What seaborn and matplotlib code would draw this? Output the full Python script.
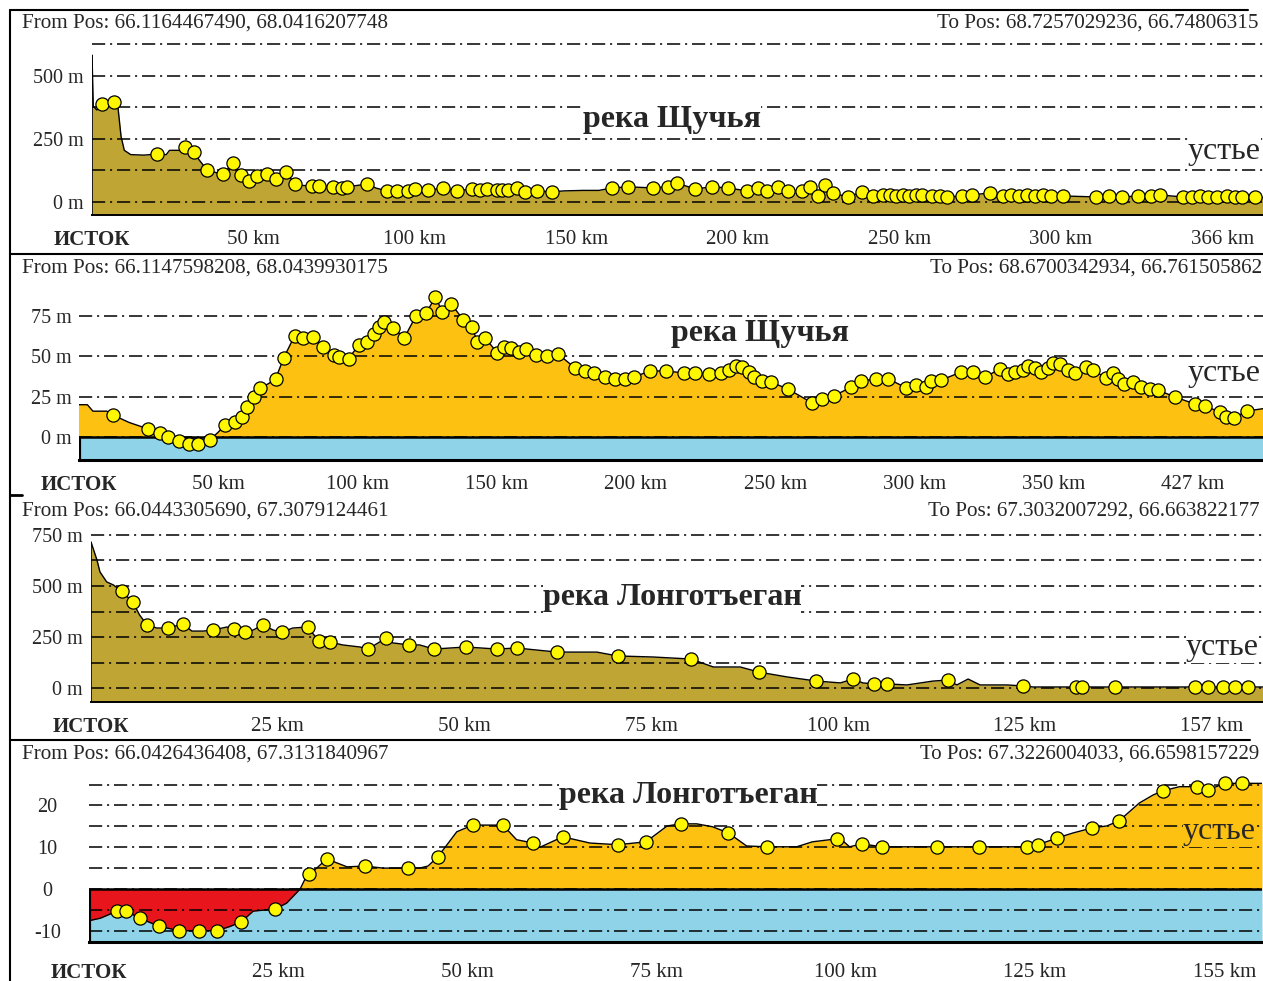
import numpy as np
import matplotlib
matplotlib.use("Agg")
import matplotlib.pyplot as plt
import seaborn as sns

# river profiles, (km from source, elevation)
# *_pts  = yellow survey markers, *_line = extra vertices of the profile line

# --- 1: река Щучья, relief
p1_pts = [(3.1, 390), (6.8, 395), (20.1, 190), (28.8, 218), (31.6, 198), (35.6, 127), (40.6, 111), (43.7, 155),
          (46.1, 107), (48.6, 83), (51.1, 103), (54.2, 111), (57.0, 91), (60.1, 119), (62.8, 71), (68.1, 63),
          (70.3, 63), (74.6, 60), (77.4, 56), (78.9, 60), (85.1, 71), (91.3, 44), (94.4, 44), (97.8, 44),
          (100.0, 52), (104, 46), (108.7, 56), (113.0, 44), (117.6, 52), (120, 48), (122.3, 52), (125.4, 48),
          (127, 48), (128.8, 48), (131.6, 56), (134.1, 40), (137.8, 44), (142.4, 40), (161, 56), (166, 60),
          (173.7, 56), (178.3, 60), (181.1, 75), (186.7, 52), (192, 60), (196.9, 56), (202.8, 44), (206.2, 56),
          (209, 44), (212.4, 60), (215.5, 44), (219.8, 44), (222.3, 60), (224.8, 24), (227, 67), (229.4, 36),
          (234, 20), (238.4, 40), (241.8, 24), (245, 28), (247, 26), (249, 24), (251, 28), (253, 24),
          (255, 26), (257, 28), (260, 24), (262.5, 24), (264.7, 20), (269.3, 24), (272.4, 28), (278, 36),
          (282, 24), (284.5, 26), (287, 24), (289.5, 28), (292, 24), (294.5, 26), (297, 24), (300.6, 24),
          (311, 20), (315, 24), (319, 20), (324, 24), (328, 24), (330.6, 28), (337.8, 20), (340.5, 20),
          (343, 22), (345.5, 20), (348.5, 20), (351.5, 22), (354, 20), (356, 20), (360, 18)]
p1_line = [(0, 583), (0.4, 380), (1.5, 365), (5, 395), (7.5, 395), (8, 380), (9, 260), (10, 205), (12, 188),
           (16, 186), (23, 188), (24, 205), (27, 205), (33, 170), (38, 118), (65, 66), (88, 55), (146, 44),
           (152, 46), (157, 46), (366, 18)]

# --- 2: река Щучья, water level
p2_pts = [(12.2, 13.6), (24.8, 5), (29, 2.5), (32, 0), (36, -2.5), (39.5, -4.3), (42.7, -4.3), (47, -1.9),
          (52.5, 7.4), (56, 9.3), (58.7, 12.4), (60.2, 18.6), (63, 24.8), (64.9, 30.4), (70.6, 36), (73.5, 49),
          (77.4, 62.6), (80.6, 61.4), (83.9, 62), (87.8, 55.8), (91.4, 50.8), (93.5, 49.6), (96.8, 48.4),
          (100.4, 57), (103.6, 58.9), (106, 63.9), (107.9, 68.2), (109.7, 71.3), (112.9, 67.6), (116.8, 61.4),
          (121, 75), (124.7, 76.9), (128, 86.8), (130.5, 77.5), (133.7, 82.5), (138, 72.5), (141.2, 68.2),
          (143, 58.9), (145.9, 61.4), (150.2, 52.1), (152.7, 55.8), (155.2, 55.2), (158, 52.7), (160.6, 54.6),
          (164.2, 50.8), (168.1, 50.2), (172, 51.5), (178.1, 42.8), (181.7, 40.9), (185, 39.7), (188.9, 37.2),
          (192.5, 36), (196, 36), (199.3, 37.2), (205, 40.9), (210.8, 40.9), (217.2, 39.7), (221.1, 39.7),
          (226.2, 39), (230.5, 39.7), (233.3, 41.5), (235.8, 44), (238, 43.4), (240.5, 40.3), (242.3, 37.2),
          (245.2, 34.7), (248.4, 34.1), (254.5, 29.8), (263.4, 21), (266.7, 23.6), (271, 25.4), (277.4, 31),
          (281, 34.7), (286.4, 36), (290.7, 36), (297.1, 30.4), (300.7, 32.2), (304, 31), (306.1, 34.7),
          (309.7, 35.3), (316.8, 40.3), (321.1, 40.3), (325.4, 37.2), (330.8, 42.2), (333.7, 39), (336.2, 40.3),
          (339, 41.5), (340.9, 44), (343.4, 42.8), (345.5, 40.3), (348, 42.8), (349.8, 45.9), (352.3, 45.3),
          (355.2, 41.5), (357.7, 39.7), (361.6, 43.4), (364.2, 41.5), (368.8, 36.6), (371.3, 39.7), (373.1, 36),
          (375.3, 32.9), (378.5, 34.1), (381.4, 31), (384.6, 29.8), (387.5, 29.1), (393.5, 24.8), (400.7, 20.5),
          (404.3, 19.2), (409.7, 15.5), (411.8, 12.4), (414.7, 11.8), (419.4, 16.1)]
p2_line = [(0, 20), (3, 20), (5, 16), (10, 16), (18, 9), (50, 3), (68, 33), (423, 17), (427, 18)]

# --- 3: река Лонготъеган, relief
p3_pts = [(4.1, 475), (5.6, 421), (7.5, 309), (10.3, 294), (12.3, 314), (16.3, 284), (19.1, 289), (20.6, 274),
          (23, 309), (25.6, 274), (29, 299), (30.5, 230), (32, 225), (37.1, 191), (39.5, 245), (42.6, 211),
          (45.9, 191), (50.2, 201), (54.3, 191), (57, 196), (62.4, 176), (70.5, 157), (80.3, 142), (89.4, 78),
          (97.1, 34), (102, 44), (104.8, 20), (106.6, 20), (114.7, 39), (124.8, 10), (131.9, 5), (132.7, 5),
          (137.1, 5), (147.7, 5), (149.5, 5), (151.5, 5), (153.1, 5), (154.8, 5)]
p3_line = [(0, 716), (0.8, 627), (1.2, 569), (2.1, 520), (3, 505), (6.5, 358), (8.8, 294), (13.5, 279),
           (15, 279), (18.2, 299), (21.7, 284), (24.4, 284), (27, 294), (33.7, 211), (36, 201), (40.4, 221),
           (44, 211), (67.7, 176), (75.2, 152), (83.3, 103), (86.9, 103), (93.2, 54), (100.3, 25), (103.3, 25),
           (109.2, 15), (112.7, 34), (115.9, 15), (117.4, 44), (119, 15), (122.6, 15), (126.1, 5), (157, 5)]

# --- 4: река Лонготъеган, water level
p4_pts = [(3.7, -5.3), (4.9, -5.3), (6.7, -7), (9.2, -8.9), (11.9, -10), (14.5, -10), (16.9, -10), (20.1, -7.9),
          (24.6, -4.8), (29.1, 3.6), (31.4, 7.2), (36.5, 5.5), (42.1, 5), (46.1, 7.7), (50.7, 15.3), (54.7, 15.3),
          (58.7, 11), (62.6, 12.5), (69.9, 10.6), (73.6, 11.3), (78.2, 15.6), (84.5, 13.4), (89.6, 10.1),
          (98.8, 12), (102.1, 10.8), (104.8, 10.1), (112, 10.1), (117.6, 10.1), (123.9, 10.1), (125.4, 10.6),
          (127.9, 12.2), (132.5, 14.6), (136.1, 16.3), (141.9, 23.5), (146.4, 24.5), (147.8, 23.7),
          (150.1, 25.3), (152.4, 25.3)]
p4_line = [(0, -7.6), (1.5, -7), (18.6, -9), (21.7, -5.3), (26.1, -3.4), (27.9, 0), (28.5, 2.2), (30.1, 5),
           (34.1, 5.3), (38.8, 5), (43.7, 5), (44.8, 5.5), (48.6, 13.7), (56.5, 11.8), (59.6, 10), (66.2, 11),
           (76.4, 15.1), (80.3, 15.6), (82.4, 14.9), (86.9, 10.3), (93.5, 10.1), (95.6, 11.3), (99.2, 12.2),
           (100.5, 10.1), (130, 13.4), (134.5, 15.1), (138.8, 20.6), (140.6, 22.5), (144.1, 24.5), (155, 25.3)]

km_ticks = [[0, 50, 100, 150, 200, 250, 300, 350],
            [0, 50, 100, 150, 200, 250, 300, 350, 400],
            [0, 25, 50, 75, 100, 125, 150],
            [0, 25, 50, 75, 100, 125, 150]]
km_labels = [['ИСТОК', '50 km', '100 km', '150 km', '200 km', '250 km', '300 km', '366 km'],
             ['ИСТОК', '50 km', '100 km', '150 km', '200 km', '250 km', '300 km', '350 km', '427 km'],
             ['ИСТОК', '25 km', '50 km', '75 km', '100 km', '125 km', '157 km'],
             ['ИСТОК', '25 km', '50 km', '75 km', '100 km', '125 km', '155 km']]
elev_ticks = [[0, 250, 500], [0, 25, 50, 75], [0, 250, 500, 750], [-10, 0, 10, 20]]
elev_labels = [['0 m', '250 m', '500 m'], ['0 m', '25 m', '50 m', '75 m'],
               ['0 m', '250 m', '500 m', '750 m'], ['-10', '0', '10', '20']]
grid_levels = [[0, 125, 250, 375, 500, 625], [0, 25, 50, 75],
               [0, 125, 250, 375, 500, 625, 750], [-10, -5, 0, 5, 10, 15, 20, 25]]

from_pos = ['From Pos: 66.1164467490, 68.0416207748', 'From Pos: 66.1147598208, 68.0439930175',
            'From Pos: 66.0443305690, 67.3079124461', 'From Pos: 66.0426436408, 67.3131840967']
to_pos = ['To Pos: 68.7257029236, 66.74806315', 'To Pos: 68.6700342934, 66.761505862',
          'To Pos: 67.3032007292, 66.663822177', 'To Pos: 67.3226004033, 66.6598157229']
river_names = ['река Щучья', 'река Щучья', 'река Лонготъеган', 'река Лонготъеган']

OLIVE = '#bfa634'
ORANGE = '#fdc112'
BLUE = '#8fd3e8'
RED = '#e8161c'
YELLOW = '#fff700'
GRID = (0, (9.5, 3.5, 1.5, 3.5))

sns.set_style('white')
plt.rcParams['font.family'] = ['Liberation Serif', 'DejaVu Serif']
plt.rcParams['lines.scale_dashes'] = False

W, H = 1263, 981
fig = plt.figure(figsize=(W / 100, H / 100), dpi=100)


def px_axes(x0, y0, x1, y1):
    return fig.add_axes([x0 / W, 1 - y1 / H, (x1 - x0) / W, (y1 - y0) / H])


def panel(i, box, xlim, ylim, pts, line, sea, ypad, xpad, yha='right'):
    ax = px_axes(*box)
    ax.set_facecolor('none')
    prof = sorted(pts + line)
    km = np.array([p[0] for p in prof])
    m = np.array([p[1] for p in prof])
    ymin = ylim[0]
    if sea:
        ax.fill_between(km, ymin, np.minimum(m, 0), color=BLUE, lw=0, zorder=1)
        if i == 3:
            ax.fill_between(km, m, 0, where=m < 0, interpolate=True, color=RED, lw=0, zorder=1)
        else:
            ax.fill_between(km, np.minimum(m, 0), 0, color=BLUE, lw=0, zorder=1)
        ax.fill_between(km, 0, m, where=m >= 0, interpolate=True, color=ORANGE, lw=0, zorder=1)
    else:
        ax.fill_between(km, ymin, m, color=OLIVE, lw=0, zorder=1)
    for v in grid_levels[i]:
        ax.axhline(v, color='black', lw=1.1, ls=GRID, zorder=2)
    if sea:
        ax.axhline(0, color='black', lw=1.8, zorder=2.5)
        ax.vlines(0, ymin, 0, color='black', lw=3, zorder=3)
    else:
        ax.vlines(0, ymin, m[0], color='black', lw=1.2, zorder=3)
    sns.lineplot(x=km, y=m, ax=ax, color='black', lw=1, estimator=None, sort=False, zorder=3)
    sns.scatterplot(x=[p[0] for p in pts], y=[p[1] for p in pts], ax=ax, s=90, color=YELLOW,
                    edgecolor='black', linewidth=0.9, zorder=4, clip_on=False)
    ax.set_xlim(*xlim)
    ax.set_ylim(*ylim)
    ax.set_xlabel('')
    ax.set_ylabel('')
    for s in ['top', 'right', 'left']:
        ax.spines[s].set_visible(False)
    ax.spines['bottom'].set_color('black')
    ax.spines['bottom'].set_linewidth(2.2 if sea else 1.4)
    ax.set_xticks(km_ticks[i])
    ax.set_xticklabels(km_labels[i])
    ax.get_xticklabels()[0].set_fontweight('bold')
    ax.set_yticks(elev_ticks[i])
    ax.set_yticklabels(elev_labels[i])
    for t in ax.get_yticklabels():
        t.set_ha(yha)
    ax.tick_params(axis='x', direction='out', length=6, width=1, color='black', pad=xpad, labelsize=15)
    ax.tick_params(axis='y', length=0, pad=ypad, labelsize=14.5)
    ax.grid(False)
    return ax


panel(0, (92, 30, 1274, 215), (0, 366), (-51.6, 682.5), p1_pts, p1_line, False, 6, 5)
panel(1, (79, 285, 1268, 460), (0, 427), (-14.26, 94.2), p2_pts, p2_line, True, 5, 5)
panel(2, (91, 525, 1264, 702), (0, 157), (-68.6, 799), p3_pts, p3_line, False, 6, 5)
panel(3, (89, 775, 1262, 942), (0, 155), (-12.7, 27.3), p4_pts, p4_line, True, 30, 9, 'center')

# overlay for frame lines and captions, in pixel coordinates
ov = fig.add_axes([0, 0, 1, 1], zorder=10)
ov.set_xlim(0, W)
ov.set_ylim(H, 0)
ov.axis('off')
ov.patch.set_alpha(0)
ov.plot([10, 10], [10, H], color='black', lw=1.5)
ov.plot([10, 1248], [10, 10], color='black', lw=1.5)
ov.plot([10, W], [254, 254], color='black', lw=1.5)
ov.plot([10, 22], [495, 495], color='black', lw=2)
ov.plot([10, 1250], [740, 740], color='black', lw=1.5)

header_y = [23, 268, 511, 754]
to_x = [937, 930, 928, 920]
name_xy = [(672, 120), (760, 333), (672, 598), (688, 795)]
mouth_xy = [(1188, 152), (1188, 374), (1186, 648), (1183, 832)]
for i in range(4):
    ov.text(22, header_y[i], from_pos[i], ha='left', va='center', fontsize=15.2)
    ov.text(to_x[i], header_y[i], to_pos[i], ha='left', va='center', fontsize=15.0 if i == 3 else 15.2)
    ov.text(*name_xy[i], river_names[i], ha='center', va='center', fontsize=23, fontweight='bold',
            bbox=dict(fc='white', ec='none', pad=0))
    ov.text(*mouth_xy[i], 'устье', ha='left', va='center', fontsize=23,
            bbox=dict(fc=ORANGE if i == 3 else 'white', ec='none', pad=0))

fig.savefig('out.png', dpi=100)
